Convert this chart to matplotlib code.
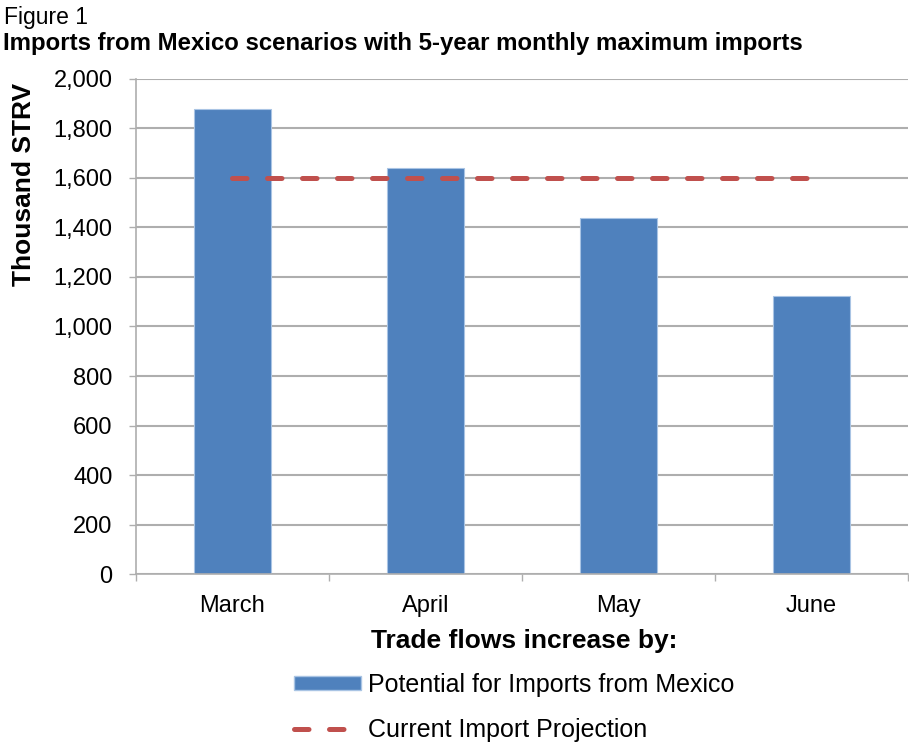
import matplotlib.pyplot as plt
from matplotlib.lines import Line2D
from matplotlib.patches import Patch

plt.rcParams['font.family'] = ['Liberation Sans', 'DejaVu Sans']

# monthly data (thousand STRV)
months = ['March', 'April', 'May', 'June']
potential = [1880, 1640, 1440, 1125]
projection = [1600, 1600, 1600, 1600]

blue = '#4F81BD'
red = '#C0504D'
grey = '#AEAEAE'

fig = plt.figure(figsize=(9.09, 7.45), dpi=100)
ax = fig.add_axes([0.1496, 0.2295, 0.8494, 0.6645])

x = range(len(months))
ax.bar(x, potential, width=0.4, color=blue, edgecolor='#A9C4E4', linewidth=0.8, zorder=2)
ln, = ax.plot(x, projection, color=red, linewidth=3.6, zorder=3,
              solid_capstyle='round', dash_capstyle='round')
ln.set_dashes([2.9, 4.1])

ax.set_xlim(-0.5, 3.5)
ax.set_ylim(0, 2000)
ax.set_yticks(range(0, 2001, 200))
ax.set_yticklabels([f'{v:,}' for v in range(0, 2001, 200)])
ax.yaxis.grid(True, color=grey, linewidth=1.5, zorder=0)
ax.set_axisbelow(True)

# category ticks sit between the months
ax.set_xticks([-0.5, 0.5, 1.5, 2.5, 3.5])
ax.set_xticklabels([])
ax.set_xticks(list(x), minor=True)
ax.set_xticklabels(months, minor=True)
ax.tick_params(axis='x', which='minor', length=0, pad=15, labelsize=17)
ax.tick_params(axis='x', which='major', length=5, color=grey, width=1)
ax.tick_params(axis='y', length=5, color=grey, width=1, labelsize=17, pad=12)

for s in ['top', 'right']:
    ax.spines[s].set_visible(False)
for s in ['left', 'bottom']:
    ax.spines[s].set_color(grey)
    ax.spines[s].set_linewidth(1.2)

fig.text(0.004, 0.976, 'Figure 1', fontsize=16.5, va='center')
fig.text(0.003, 0.941, 'Imports from Mexico scenarios with 5-year monthly maximum imports',
         fontsize=17.3, fontweight='bold', va='center')
fig.text(0.026, 0.752, 'Thousand STRV', fontsize=19, fontweight='bold',
         rotation=90, ha='center', va='center')
fig.text(0.5765, 0.139, 'Trade flows increase by:', fontsize=19, fontweight='bold',
         ha='center', va='center')

handles = [Patch(facecolor=blue, edgecolor='#A9C4E4'),
           Line2D([0], [0], color=red, linewidth=3.6, linestyle=(0, (2.9, 4.1)),
                  dash_capstyle='round')]
labels = ['Potential for Imports from Mexico', 'Current Import Projection']
fig.legend(handles, labels, loc='center left', bbox_to_anchor=(0.2985, 0.050),
           frameon=False, fontsize=18, handlelength=2.7, handleheight=0.5,
           handletextpad=0.25, labelspacing=0.85)

fig.savefig('out.png', dpi=100)
